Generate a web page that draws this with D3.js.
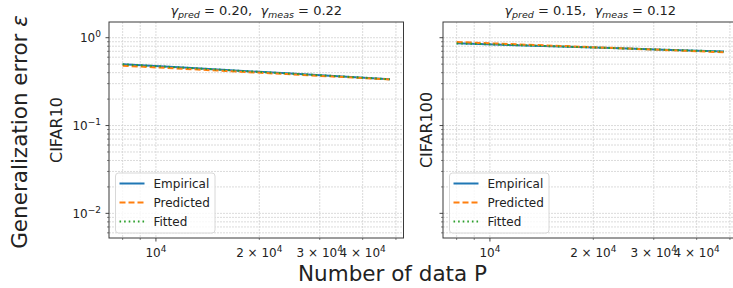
<!DOCTYPE html>
<html><head><meta charset="utf-8">
<script src="https://cdn.jsdelivr.net/npm/d3@7/dist/d3.min.js"></script>
<style>
body{margin:0;background:#fff;}
svg{display:block;font-family:"DejaVu Sans",sans-serif;}
</style></head>
<body><svg id="chart" width="733" height="288"></svg>
<script>
// ---- data ----
const datasets = ["CIFAR10", "CIFAR100"];
const gammaPred = ["0.20", "0.15"];
const gammaMeas = ["0.22", "0.12"];
const P = [8000, 12000, 16000, 24000, 32000, 48000];
const empiricalC10 = [0.500, 0.458, 0.429, 0.393, 0.369, 0.336];
const predictedC10 = [0.480, 0.443, 0.418, 0.385, 0.363, 0.335];
const fittedC10    = [0.498, 0.457, 0.429, 0.393, 0.369, 0.337];
const empiricalC100 = [0.863, 0.822, 0.794, 0.757, 0.731, 0.696];
const predictedC100 = [0.894, 0.841, 0.806, 0.758, 0.726, 0.683];
const fittedC100    = [0.862, 0.822, 0.794, 0.757, 0.731, 0.697];
const seriesNames = ["Empirical", "Predicted", "Fitted"];
const seriesColors = ["#1f77b4", "#ff7f0e", "#2ca02c"];
const xMajorTicks = [10000];
const xLabeledMinor = [20000, 30000, 40000];
const yMajorTicks = [1, 0.1, 0.01];
const xDomain = [7300, 52600];
const yDomain = [0.00524, 1.51];

const panelData = [
  [empiricalC10, predictedC10, fittedC10],
  [empiricalC100, predictedC100, fittedC100]
];

const svg = d3.select("#chart");
const topY = 22, bottomY = 238, pw = 294.5;
const lefts = [109, 443];
const dashes = [null, "6,3", "1.6,3"];

function sup(sel, base, exp, supSize, dy) {
  sel.append("tspan").text(base);
  sel.append("tspan").attr("font-size", supSize).attr("dy", dy).text(exp);
}

function minorVals(lo, hi) {
  const out = [];
  for (let e = Math.floor(Math.log10(lo)); e <= Math.ceil(Math.log10(hi)); e++) {
    for (let m = 1; m <= 9; m++) {
      const v = m * Math.pow(10, e);
      if (v >= lo && v <= hi) out.push(v);
    }
  }
  return out;
}
const isMajor = (arr, d) => arr.some(v => Math.abs(v - d) / v < 1e-9);

lefts.forEach((L, i) => {
  const x = d3.scaleLog().domain(xDomain).range([L, L + pw]);
  const y = d3.scaleLog().domain(yDomain).range([bottomY, topY]);
  const g = svg.append("g");

  const xs = minorVals(xDomain[0], xDomain[1]);
  const ys = minorVals(yDomain[0], yDomain[1]);

  // grid
  g.selectAll(".gx").data(xs).join("line")
    .attr("x1", d => x(d)).attr("x2", d => x(d)).attr("y1", topY).attr("y2", bottomY)
    .attr("stroke", "#d2d2d2").attr("stroke-width", 0.8).attr("stroke-dasharray", "2,1");
  g.selectAll(".gy").data(ys).join("line")
    .attr("x1", L).attr("x2", L + pw).attr("y1", d => y(d)).attr("y2", d => y(d))
    .attr("stroke", "#d2d2d2").attr("stroke-width", 0.8).attr("stroke-dasharray", "2,1");

  // lines
  const line = d3.line().x((d, k) => x(P[k])).y(d => y(d));
  panelData[i].forEach((vals, s) => {
    g.append("path").datum(vals).attr("d", line)
      .attr("fill", "none").attr("stroke", seriesColors[s]).attr("stroke-width", 2)
      .attr("stroke-dasharray", dashes[s]);
  });

  // spines
  g.append("rect").attr("x", L).attr("y", topY).attr("width", pw).attr("height", bottomY - topY)
    .attr("fill", "none").attr("stroke", "#3a3a3a").attr("stroke-width", 1);

  // x ticks
  g.selectAll(".xt").data(xs).join("line")
    .attr("x1", d => x(d)).attr("x2", d => x(d)).attr("y1", bottomY)
    .attr("y2", d => bottomY + (isMajor(xMajorTicks, d) ? 3.5 : 2))
    .attr("stroke", "#333").attr("stroke-width", d => isMajor(xMajorTicks, d) ? 0.9 : 0.6);
  xMajorTicks.forEach(v => {
    const t = g.append("text").attr("x", x(v)).attr("y", 257).attr("text-anchor", "middle")
      .attr("font-size", 12).attr("fill", "#222");
    sup(t, "10", "4", 9, -5);
  });
  xLabeledMinor.forEach(v => {
    const t = g.append("text").attr("x", x(v)).attr("y", 257).attr("text-anchor", "middle")
      .attr("font-size", 12).attr("fill", "#222");
    sup(t, (v / 10000) + " \u00d7 10", "4", 9, -5);
  });

  // y ticks
  g.selectAll(".yt").data(ys).join("line")
    .attr("x1", L).attr("y1", d => y(d)).attr("y2", d => y(d))
    .attr("x2", d => L - (isMajor(yMajorTicks, d) ? 3.5 : 2))
    .attr("stroke", "#333").attr("stroke-width", d => isMajor(yMajorTicks, d) ? 0.9 : 0.6);
  if (i === 0) {
    yMajorTicks.forEach(v => {
      const e = Math.round(Math.log10(v));
      const t = g.append("text").attr("x", L - 8).attr("y", y(v) + 4.5).attr("text-anchor", "end")
        .attr("font-size", 12).attr("fill", "#222");
      sup(t, "10", e === 0 ? "0" : "\u2212" + (-e), 9, -5);
    });
  }

  // title
  const tt = g.append("text").attr("x", L + pw / 2).attr("y", 15).attr("text-anchor", "middle")
    .attr("font-size", 13).attr("fill", "#222");
  tt.append("tspan").attr("font-style", "italic").text("\u03b3");
  tt.append("tspan").attr("font-style", "italic").attr("font-size", 9.5).attr("dy", 2.5).text("pred");
  tt.append("tspan").attr("dy", -2.5).text("\u00a0=\u00a0" + gammaPred[i] + ",\u00a0\u00a0");
  tt.append("tspan").attr("font-style", "italic").text("\u03b3");
  tt.append("tspan").attr("font-style", "italic").attr("font-size", 9.5).attr("dy", 2.5).text("meas");
  tt.append("tspan").attr("dy", -2.5).text("\u00a0=\u00a0" + gammaMeas[i]);

  // row label
  const lx = i === 0 ? 62 : 432;
  g.append("text").attr("transform", `translate(${lx},${(topY + bottomY) / 2}) rotate(-90)`)
    .attr("text-anchor", "middle").attr("font-size", 16).attr("fill", "#222").text(datasets[i]);

  // legend
  const lg = g.append("g").attr("transform", `translate(${L + 6.5},${173})`);
  lg.append("rect").attr("width", 99.5).attr("height", 60).attr("rx", 3)
    .attr("fill", "rgba(255,255,255,0.8)").attr("stroke", "#d8d8d8").attr("stroke-width", 1);
  seriesNames.forEach((n, s) => {
    const yy = 10.5 + s * 19;
    lg.append("line").attr("x1", 4).attr("x2", 29).attr("y1", yy).attr("y2", yy)
      .attr("stroke", seriesColors[s]).attr("stroke-width", 2).attr("stroke-dasharray", dashes[s]);
    lg.append("text").attr("x", 38).attr("y", yy + 4.3).attr("font-size", 12).attr("fill", "#222").text(n);
  });
});

// super labels
svg.append("text").attr("transform", "translate(27,132) rotate(-90)").attr("text-anchor", "middle")
  .attr("font-size", 21.5).attr("fill", "#222")
  .call(t => { t.append("tspan").text("Generalization error "); t.append("tspan").attr("font-style", "italic").text("\u03b5"); });
svg.append("text").attr("x", 392.5).attr("y", 281).attr("text-anchor", "middle")
  .attr("font-size", 21.5).attr("fill", "#222").text("Number of data P");
</script></body></html>
